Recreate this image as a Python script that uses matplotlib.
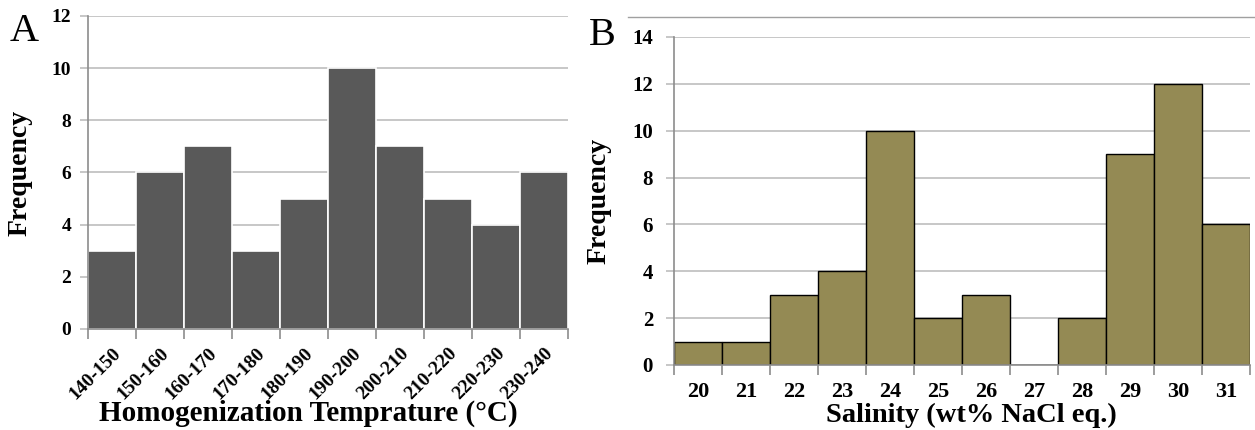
import matplotlib.pyplot as plt
import numpy as np
from matplotlib.lines import Line2D

# panel A: homogenization temperature bins
temp_bins = ["140-150", "150-160", "160-170", "170-180", "180-190",
             "190-200", "200-210", "210-220", "220-230", "230-240"]
temp_freq = [3, 6, 7, 3, 5, 10, 7, 5, 4, 6]

# panel B: salinity bins
sal_bins = ["20", "21", "22", "23", "24", "25", "26", "27", "28", "29", "30", "31"]
sal_freq = [1, 1, 3, 4, 10, 2, 3, 0, 2, 9, 12, 6]

plt.rcParams['font.family'] = ['Liberation Serif', 'DejaVu Serif']

grid_c = '#BDBDBD'
spine_c = '#8C8C8C'

fig = plt.figure(figsize=(12.55, 4.3), dpi=100)


def style(ax, n, ymax, ystep):
    ax.set_xlim(-0.5, n - 0.5)
    ax.set_ylim(0, ymax)
    ax.set_yticks(np.arange(0, ymax + 1, ystep))
    ax.yaxis.grid(True, color=grid_c, linewidth=1.2)
    ax.set_axisbelow(True)
    for s in ['top', 'right']:
        ax.spines[s].set_visible(False)
    for s in ['left', 'bottom']:
        ax.spines[s].set_color(spine_c)
        ax.spines[s].set_linewidth(1.2)
    ax.set_xticks(np.arange(n))
    ax.set_xticks(np.arange(n + 1) - 0.5, minor=True)
    ax.tick_params(axis='x', which='major', length=0)
    ax.tick_params(axis='x', which='minor', length=7, color=spine_c, width=1.2)
    ax.tick_params(axis='y', length=6, color=grid_c, width=1.2)


# ---- A ----
axA = fig.add_axes([0.0701, 0.2349, 0.3825, 0.7279])
xa = np.arange(len(temp_bins))
axA.bar(xa, temp_freq, width=1.0, color='#595959', edgecolor='white', linewidth=1.2)
style(axA, len(temp_bins), 12, 2)
axA.set_xticklabels(temp_bins, rotation=45, ha='right', rotation_mode='anchor',
                    fontsize=14, fontweight='bold')
axA.tick_params(axis='x', which='major', pad=11)
axA.tick_params(axis='y', labelsize=14, pad=6)
for t in axA.get_yticklabels():
    t.set_fontweight('bold')
axA.set_ylabel("Frequency", fontsize=20, fontweight='bold', labelpad=14)
axA.set_xlabel("Homogenization Temprature (°C)", fontsize=21, fontweight='bold')
axA.xaxis.set_label_coords(0.46, -0.225)
fig.text(0.008, 0.905, "A", fontsize=29)

# ---- B ----
axB = fig.add_axes([0.537, 0.1512, 0.459, 0.7628])
xb = np.arange(len(sal_bins))
axB.bar(xb, sal_freq, width=1.0, color='#948A54', edgecolor='black', linewidth=1.0)
style(axB, len(sal_bins), 14, 2)
axB.set_xticklabels(sal_bins, fontsize=16, fontweight='bold')
axB.tick_params(axis='x', which='major', pad=12)
axB.tick_params(axis='y', labelsize=15, pad=9)
for t in axB.get_yticklabels():
    t.set_fontweight('bold')
axB.set_ylabel("Frequency", fontsize=20, fontweight='bold', labelpad=15)
axB.set_xlabel("Salinity (wt% NaCl eq.)", fontsize=20.5, fontweight='bold')
axB.xaxis.set_label_coords(0.517, -0.115)
fig.text(0.469, 0.895, "B", fontsize=29)

# thin border line along the top of panel B
fig.add_artist(Line2D([0.5, 1.0], [1 - 17 / 430, 1 - 17 / 430],
                      transform=fig.transFigure, color='#A0A0A0', linewidth=1.0))

fig.savefig('out.png', dpi=100)
